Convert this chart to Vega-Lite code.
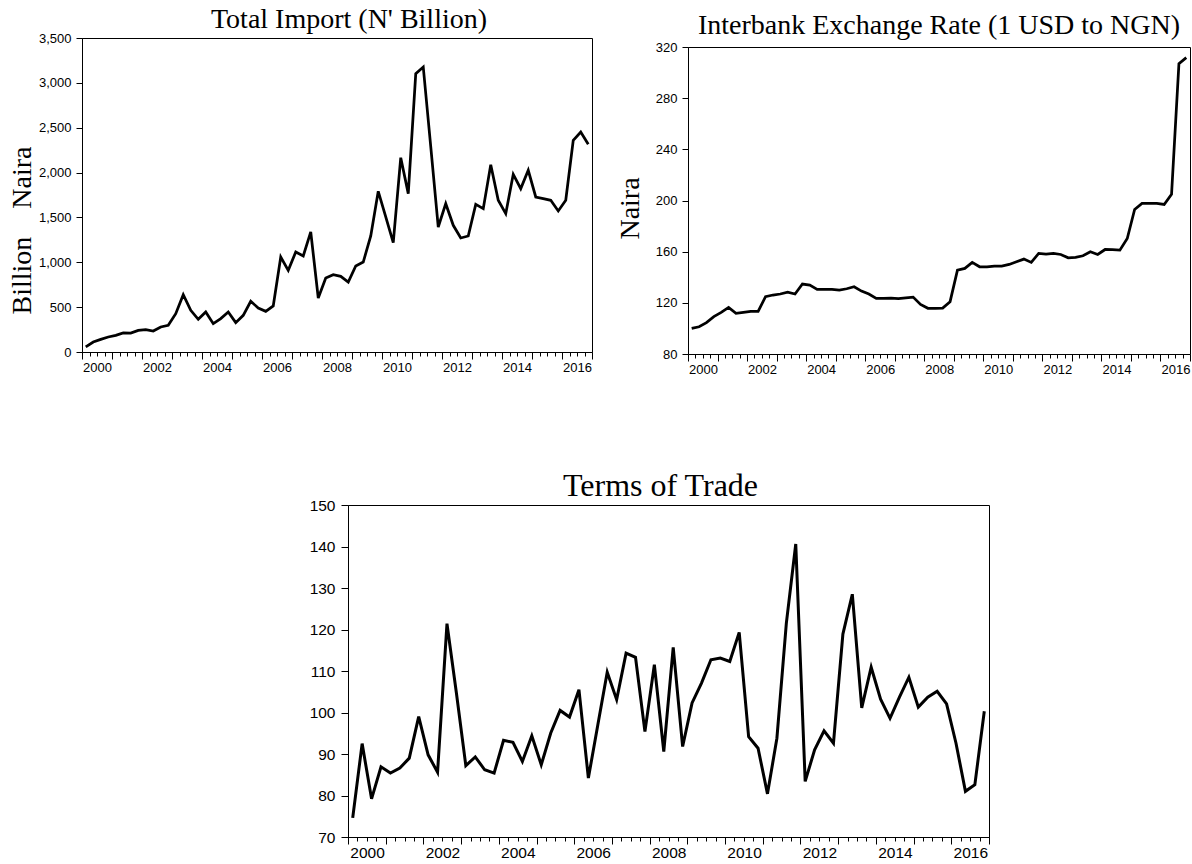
{
  "$schema": "https://vega.github.io/schema/vega-lite/v6.json",
  "background": "white",
  "padding": {"left": 7, "top": 5, "right": 0, "bottom": 0},
  "config": {
    "view": {"stroke": "black", "strokeWidth": 1},
    "axis": {"domainColor": "black", "tickColor": "black", "labelColor": "black", "labelFont": "Liberation Sans", "titleFont": "Liberation Serif", "titleFontWeight": "normal", "titleColor": "black", "grid": false, "domainWidth": 1, "tickWidth": 1},
    "title": {"font": "Liberation Serif", "fontWeight": "normal", "color": "black", "anchor": "middle", "frame": "group"},
    "line": {"color": "black", "strokeWidth": 2.75}
  },
  "datasets": {
    "quarterly": [
      {"period": "2000Q1", "t": 2000.125, "imp": 56, "rate": 100.0, "tot": 74.6},
      {"period": "2000Q2", "t": 2000.375, "imp": 111, "rate": 101.3, "tot": 92.5},
      {"period": "2000Q3", "t": 2000.625, "imp": 141, "rate": 104.5, "tot": 79.2},
      {"period": "2000Q4", "t": 2000.875, "imp": 167, "rate": 109.2, "tot": 86.9},
      {"period": "2001Q1", "t": 2001.125, "imp": 186, "rate": 112.5, "tot": 85.4},
      {"period": "2001Q2", "t": 2001.375, "imp": 212, "rate": 116.4, "tot": 86.6},
      {"period": "2001Q3", "t": 2001.625, "imp": 210, "rate": 111.8, "tot": 89.0},
      {"period": "2001Q4", "t": 2001.875, "imp": 241, "rate": 112.5, "tot": 99.0},
      {"period": "2002Q1", "t": 2002.125, "imp": 249, "rate": 113.3, "tot": 89.8},
      {"period": "2002Q2", "t": 2002.375, "imp": 234, "rate": 113.3, "tot": 85.6},
      {"period": "2002Q3", "t": 2002.625, "imp": 279, "rate": 124.8, "tot": 121.4},
      {"period": "2002Q4", "t": 2002.875, "imp": 297, "rate": 126.1, "tot": 104.7},
      {"period": "2003Q1", "t": 2003.125, "imp": 427, "rate": 126.9, "tot": 87.2},
      {"period": "2003Q2", "t": 2003.375, "imp": 639, "rate": 128.4, "tot": 89.3},
      {"period": "2003Q3", "t": 2003.625, "imp": 464, "rate": 126.9, "tot": 86.2},
      {"period": "2003Q4", "t": 2003.875, "imp": 364, "rate": 134.7, "tot": 85.4},
      {"period": "2004Q1", "t": 2004.125, "imp": 446, "rate": 133.9, "tot": 93.3},
      {"period": "2004Q2", "t": 2004.375, "imp": 316, "rate": 130.5, "tot": 92.8},
      {"period": "2004Q3", "t": 2004.625, "imp": 372, "rate": 130.5, "tot": 88.2},
      {"period": "2004Q4", "t": 2004.875, "imp": 446, "rate": 130.5, "tot": 94.4},
      {"period": "2005Q1", "t": 2005.125, "imp": 327, "rate": 130.0, "tot": 87.4},
      {"period": "2005Q2", "t": 2005.375, "imp": 409, "rate": 131.0, "tot": 95.0},
      {"period": "2005Q3", "t": 2005.625, "imp": 565, "rate": 132.6, "tot": 100.5},
      {"period": "2005Q4", "t": 2005.875, "imp": 490, "rate": 129.2, "tot": 98.9},
      {"period": "2006Q1", "t": 2006.125, "imp": 453, "rate": 126.9, "tot": 105.5},
      {"period": "2006Q2", "t": 2006.375, "imp": 513, "rate": 123.5, "tot": 84.2},
      {"period": "2006Q3", "t": 2006.625, "imp": 1059, "rate": 123.5, "tot": 97.0},
      {"period": "2006Q4", "t": 2006.875, "imp": 910, "rate": 123.7, "tot": 109.7},
      {"period": "2007Q1", "t": 2007.125, "imp": 1115, "rate": 123.2, "tot": 103.1},
      {"period": "2007Q2", "t": 2007.375, "imp": 1070, "rate": 123.8, "tot": 114.3},
      {"period": "2007Q3", "t": 2007.625, "imp": 1338, "rate": 124.5, "tot": 113.3},
      {"period": "2007Q4", "t": 2007.875, "imp": 602, "rate": 118.8, "tot": 95.4},
      {"period": "2008Q1", "t": 2008.125, "imp": 825, "rate": 115.7, "tot": 111.5},
      {"period": "2008Q2", "t": 2008.375, "imp": 862, "rate": 115.7, "tot": 90.6},
      {"period": "2008Q3", "t": 2008.625, "imp": 843, "rate": 115.9, "tot": 115.7},
      {"period": "2008Q4", "t": 2008.875, "imp": 780, "rate": 120.9, "tot": 91.8},
      {"period": "2009Q1", "t": 2009.125, "imp": 959, "rate": 145.6, "tot": 102.3},
      {"period": "2009Q2", "t": 2009.375, "imp": 1003, "rate": 146.9, "tot": 107.1},
      {"period": "2009Q3", "t": 2009.625, "imp": 1293, "rate": 151.6, "tot": 112.7},
      {"period": "2009Q4", "t": 2009.875, "imp": 1791, "rate": 148.2, "tot": 113.1},
      {"period": "2010Q1", "t": 2010.125, "imp": 1505, "rate": 148.2, "tot": 112.3},
      {"period": "2010Q2", "t": 2010.375, "imp": 1219, "rate": 148.7, "tot": 119.3},
      {"period": "2010Q3", "t": 2010.625, "imp": 2166, "rate": 148.7, "tot": 94.2},
      {"period": "2010Q4", "t": 2010.875, "imp": 1765, "rate": 150.0, "tot": 91.4},
      {"period": "2011Q1", "t": 2011.125, "imp": 3102, "rate": 152.1, "tot": 80.4},
      {"period": "2011Q2", "t": 2011.375, "imp": 3177, "rate": 154.2, "tot": 93.8},
      {"period": "2011Q3", "t": 2011.625, "imp": 2290, "rate": 151.6, "tot": 121.5},
      {"period": "2011Q4", "t": 2011.875, "imp": 1393, "rate": 158.6, "tot": 140.6},
      {"period": "2012Q1", "t": 2012.125, "imp": 1653, "rate": 158.1, "tot": 83.4},
      {"period": "2012Q2", "t": 2012.375, "imp": 1412, "rate": 158.6, "tot": 91.0},
      {"period": "2012Q3", "t": 2012.625, "imp": 1271, "rate": 157.8, "tot": 95.6},
      {"period": "2012Q4", "t": 2012.875, "imp": 1293, "rate": 155.2, "tot": 92.6},
      {"period": "2013Q1", "t": 2013.125, "imp": 1646, "rate": 155.5, "tot": 118.9},
      {"period": "2013Q2", "t": 2013.375, "imp": 1598, "rate": 156.8, "tot": 128.5},
      {"period": "2013Q3", "t": 2013.625, "imp": 2088, "rate": 159.9, "tot": 101.1},
      {"period": "2013Q4", "t": 2013.875, "imp": 1691, "rate": 157.8, "tot": 110.9},
      {"period": "2014Q1", "t": 2014.125, "imp": 1542, "rate": 161.7, "tot": 103.2},
      {"period": "2014Q2", "t": 2014.375, "imp": 1980, "rate": 161.5, "tot": 98.6},
      {"period": "2014Q3", "t": 2014.625, "imp": 1821, "rate": 161.2, "tot": 103.7},
      {"period": "2014Q4", "t": 2014.875, "imp": 2025, "rate": 170.3, "tot": 108.5},
      {"period": "2015Q1", "t": 2015.125, "imp": 1728, "rate": 193.0, "tot": 101.3},
      {"period": "2015Q2", "t": 2015.375, "imp": 1709, "rate": 197.7, "tot": 103.7},
      {"period": "2015Q3", "t": 2015.625, "imp": 1691, "rate": 197.7, "tot": 105.1},
      {"period": "2015Q4", "t": 2015.875, "imp": 1572, "rate": 197.7, "tot": 102.1},
      {"period": "2016Q1", "t": 2016.125, "imp": 1691, "rate": 196.9, "tot": 92.6},
      {"period": "2016Q2", "t": 2016.375, "imp": 2359, "rate": 204.9, "tot": 81.0},
      {"period": "2016Q3", "t": 2016.625, "imp": 2452, "rate": 307.0, "tot": 82.6},
      {"period": "2016Q4", "t": 2016.875, "imp": 2315, "rate": 311.7, "tot": 100.3}
    ]
  },
  "spacing": 92,
  "vconcat": [
    {
      "spacing": 7,
      "hconcat": [
        {
          "width": 510,
          "height": 314,
          "title": {"text": "Total Import (N' Billion)", "fontSize": 28, "offset": -2, "dx": 12},
          "data": {"name": "quarterly"},
          "resolve": {"axis": {"x": "independent"}},
          "encoding": {
            "y": {"field": "imp", "type": "quantitative", "scale": {"domain": [0, 3500], "nice": false},
              "axis": {"values": [0,500,1000,1500,2000,2500,3000,3500], "format": ",d", "tickSize": 6, "labelPadding": 5, "labelFontSize": 13,
                "title": "Billion\u00a0\u00a0\u00a0\u00a0Naira", "titleFontSize": 28, "titlePadding": 2, "titleY": 192}}
          },
          "layer": [
            {
              "mark": {"type": "line"},
              "encoding": {
                "x": {"field": "t", "type": "quantitative", "scale": {"domain": [2000, 2017], "nice": false, "zero": false},
                  "axis": {"orient": "bottom", "title": null, "values": [2000,2001,2002,2003,2004,2005,2006,2007,2008,2009,2010,2011,2012,2013,2014,2015,2016,2017],
                    "labelExpr": "datum.value % 2 === 0 ? '' + datum.value : ''", "labelOffset": 15, "labelFlush": false, "labelOverlap": false, "labelFontSize": 13, "labelPadding": 2, "tickSize": 7}}
              }
            },
            {
              "mark": {"type": "line", "opacity": 0},
              "encoding": {
                "x": {"field": "t", "type": "quantitative",
                  "axis": {"orient": "bottom", "title": null, "domain": false, "labels": false, "tickSize": 4, "values": [2000.25,2000.5,2000.75,2001.25,2001.5,2001.75,2002.25,2002.5,2002.75,2003.25,2003.5,2003.75,2004.25,2004.5,2004.75,2005.25,2005.5,2005.75,2006.25,2006.5,2006.75,2007.25,2007.5,2007.75,2008.25,2008.5,2008.75,2009.25,2009.5,2009.75,2010.25,2010.5,2010.75,2011.25,2011.5,2011.75,2012.25,2012.5,2012.75,2013.25,2013.5,2013.75,2014.25,2014.5,2014.75,2015.25,2015.5,2015.75,2016.25,2016.5,2016.75]}}
              }
            }
          ]
        },
        {
          "spacing": -31,
          "vconcat": [
            {
              "width": 1,
              "height": 1,
              "view": {"stroke": null},
              "data": {"values": [{}]},
              "mark": {"type": "point", "opacity": 0}
            },
            {
              "width": 502,
              "height": 307,
              "title": {"text": "Interbank Exchange Rate (1 USD to NGN)", "fontSize": 28, "offset": 1},
              "data": {"name": "quarterly"},
              "resolve": {"axis": {"x": "independent"}},
              "encoding": {
                "y": {"field": "rate", "type": "quantitative", "scale": {"domain": [80, 320], "nice": false, "zero": false},
                  "axis": {"values": [80,120,160,200,240,280,320], "tickSize": 6, "labelPadding": 5, "labelFontSize": 13,
                    "title": "Naira", "titleFontSize": 28, "titlePadding": 11, "titleY": 161}}
              },
              "layer": [
                {
                  "mark": {"type": "line"},
                  "encoding": {
                    "x": {"field": "t", "type": "quantitative", "scale": {"domain": [2000, 2017], "nice": false, "zero": false},
                      "axis": {"orient": "bottom", "title": null, "values": [2000,2001,2002,2003,2004,2005,2006,2007,2008,2009,2010,2011,2012,2013,2014,2015,2016,2017],
                        "labelExpr": "datum.value % 2 === 0 ? '' + datum.value : ''", "labelOffset": 15, "labelFlush": false, "labelOverlap": false, "labelFontSize": 13, "labelPadding": 2, "tickSize": 7}}
                  }
                },
                {
                  "mark": {"type": "line", "opacity": 0},
                  "encoding": {
                    "x": {"field": "t", "type": "quantitative",
                      "axis": {"orient": "bottom", "title": null, "domain": false, "labels": false, "tickSize": 4, "values": [2000.25,2000.5,2000.75,2001.25,2001.5,2001.75,2002.25,2002.5,2002.75,2003.25,2003.5,2003.75,2004.25,2004.5,2004.75,2005.25,2005.5,2005.75,2006.25,2006.5,2006.75,2007.25,2007.5,2007.75,2008.25,2008.5,2008.75,2009.25,2009.5,2009.75,2010.25,2010.5,2010.75,2011.25,2011.5,2011.75,2012.25,2012.5,2012.75,2013.25,2013.5,2013.75,2014.25,2014.5,2014.75,2015.25,2015.5,2015.75,2016.25,2016.5,2016.75]}}
                  }
                }
              ]
            }
          ]
        }
      ]
    },
    {
      "spacing": 0,
      "hconcat": [
        {
          "width": 226,
          "height": 10,
          "view": {"stroke": null},
          "data": {"values": [{}]},
          "mark": {"type": "point", "opacity": 0}
        },
        {
          "width": 641,
          "height": 332,
          "title": {"text": "Terms of Trade", "fontSize": 32, "offset": -4.5, "dx": -8},
          "data": {"name": "quarterly"},
          "resolve": {"axis": {"x": "independent"}},
          "encoding": {
            "y": {"field": "tot", "type": "quantitative", "scale": {"domain": [70, 150], "nice": false, "zero": false},
              "axis": {"values": [70,80,90,100,110,120,130,140,150], "tickSize": 7, "labelPadding": 6, "labelFontSize": 15.5, "title": null}}
          },
          "layer": [
            {
              "mark": {"type": "line", "strokeWidth": 3},
              "encoding": {
                "x": {"field": "t", "type": "quantitative", "scale": {"domain": [2000, 2017], "nice": false, "zero": false},
                  "axis": {"orient": "bottom", "title": null, "values": [2000,2001,2002,2003,2004,2005,2006,2007,2008,2009,2010,2011,2012,2013,2014,2015,2016,2017],
                    "labelExpr": "datum.value % 2 === 0 ? '' + datum.value : ''", "labelOffset": 19, "labelFlush": false, "labelOverlap": false, "labelFontSize": 15.5, "labelPadding": 1, "tickSize": 7}}
              }
            },
            {
              "mark": {"type": "line", "opacity": 0},
              "encoding": {
                "x": {"field": "t", "type": "quantitative",
                  "axis": {"orient": "bottom", "title": null, "domain": false, "labels": false, "tickSize": 4, "values": [2000.25,2000.5,2000.75,2001.25,2001.5,2001.75,2002.25,2002.5,2002.75,2003.25,2003.5,2003.75,2004.25,2004.5,2004.75,2005.25,2005.5,2005.75,2006.25,2006.5,2006.75,2007.25,2007.5,2007.75,2008.25,2008.5,2008.75,2009.25,2009.5,2009.75,2010.25,2010.5,2010.75,2011.25,2011.5,2011.75,2012.25,2012.5,2012.75,2013.25,2013.5,2013.75,2014.25,2014.5,2014.75,2015.25,2015.5,2015.75,2016.25,2016.5,2016.75]}}
                  }
                }
          ]
        }
      ]
    }
  ]
}
